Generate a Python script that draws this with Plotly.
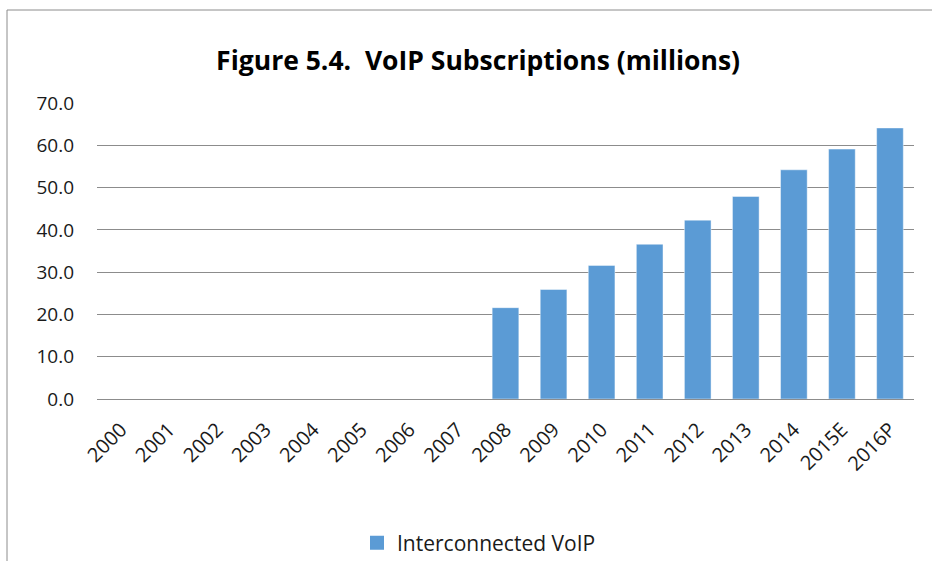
import plotly.graph_objects as go

# Interconnected VoIP subscriptions, millions (no data before 2008)
years = ["2000", "2001", "2002", "2003", "2004", "2005", "2006", "2007", "2008",
         "2009", "2010", "2011", "2012", "2013", "2014", "2015E", "2016P"]
voip = [None, None, None, None, None, None, None, None, 21.6,
        25.9, 31.6, 36.6, 42.3, 47.9, 54.2, 59.1, 64.1]
y_ticks = [0, 10, 20, 30, 40, 50, 60, 70]
y_tick_text = [f"{v:.1f}" for v in y_ticks]

FONT = "'Open Sans', Lato, sans-serif"
GRID = "#8c8c8c"
BAR = "#5b9bd5"
SERIES = "Interconnected VoIP"

fig = go.Figure()
fig.add_trace(go.Bar(
    x=years, y=voip, name=SERIES, showlegend=False,
    marker=dict(color=BAR, line=dict(color="rgba(255,255,255,0.45)", width=1)),
))
# Legend entry with a larger square swatch
fig.add_trace(go.Scatter(
    x=[years[0]], y=[None], name=SERIES, mode="markers",
    marker=dict(symbol="square", size=14, color=BAR, line=dict(width=0)),
    hoverinfo="skip",
))

fig.update_layout(
    width=932, height=561,
    margin=dict(l=97, r=18, t=103, b=162),
    paper_bgcolor="white", plot_bgcolor="white",
    font=dict(family=FONT, color="#1a1a1a", size=19),
    bargap=0.445,
    title=dict(
        text="<b>Figure 5.4.  VoIP Subscriptions (millions)</b>",
        font=dict(family=FONT, size=26.5, color="#000000"),
        x=0.513, xref="container", xanchor="center",
        y=1 - 61 / 561, yref="container", yanchor="middle",
    ),
    xaxis=dict(
        type="category", tickangle=-45, showgrid=False, automargin=False,
        range=[-0.5, len(years) - 0.5],
        showline=False, ticks="", tickfont=dict(size=20), ticklabelstandoff=14,
    ),
    yaxis=dict(
        range=[0, 70], tickvals=y_ticks, ticktext=y_tick_text, automargin=False,
        showgrid=True, gridcolor=GRID, gridwidth=1,
        zeroline=True, zerolinecolor=GRID, zerolinewidth=1,
        showline=False, ticks="", ticklabelstandoff=22,
        tickfont=dict(size=19),
    ),
    showlegend=True,
    legend=dict(
        orientation="h", xref="container", yref="container",
        x=479 / 932, xanchor="center",
        y=1 - 543 / 561, yanchor="middle",
        font=dict(size=21), itemwidth=30, itemsizing="trace",
    ),
)

# Chart frame (left and top edges visible, the rest runs off the page)
fig.add_shape(
    type="rect", xref="paper", yref="paper",
    x0=(7 - 97) / 817, x1=(945 - 97) / 817,
    y0=(399 - 575) / 296, y1=(399 - 10) / 296,
    line=dict(color="#8c8c8c", width=1), fillcolor="rgba(0,0,0,0)", layer="below",
)

fig.write_html("out.html")
